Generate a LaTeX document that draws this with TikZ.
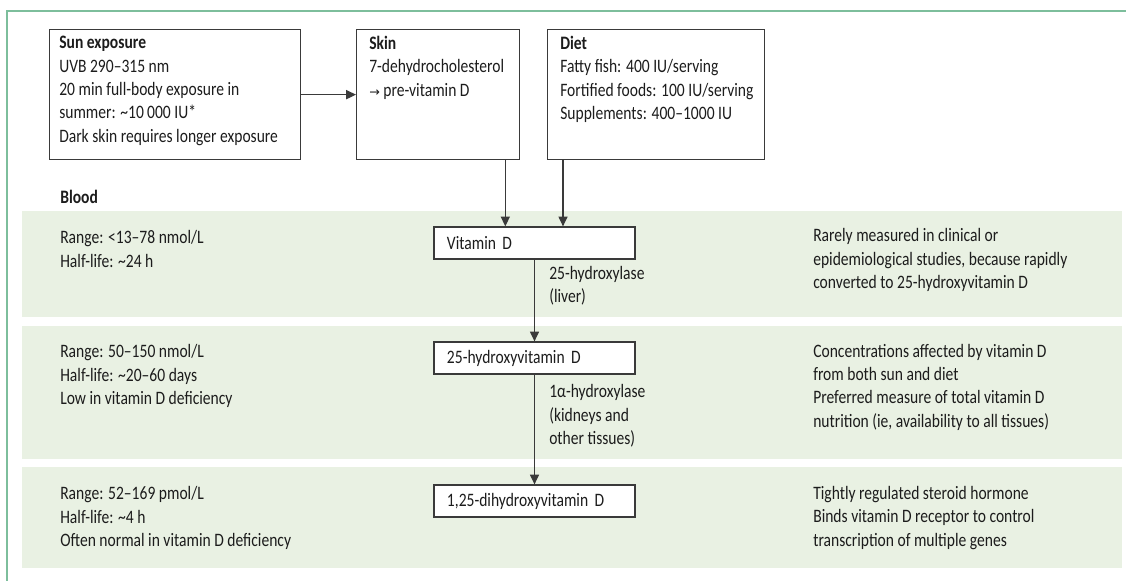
\documentclass[tikz,border=0pt]{standalone}
\usepackage{fontspec}
\setmainfont{Carlito}[FakeStretch=0.82]
\newfontfamily\symfont{DejaVu Sans}
\usetikzlibrary{arrows.meta}
\definecolor{framegreen}{HTML}{7DBE9C}
\definecolor{bandgreen}{HTML}{E9F1E3}
\definecolor{boxgray}{HTML}{3A3A3A}
\definecolor{txtgray}{HTML}{1C1C1C}

\begin{document}
\begin{tikzpicture}[x=0.025cm, y=-0.025cm,
    every node/.style={font=\fontsize{13.5}{16.6}\selectfont, text=txtgray},
    srcbox/.style={draw=boxgray, line width=0.9pt, anchor=north west, inner sep=0pt},
    stepbox/.style={draw=boxgray, line width=0.9pt, fill=white, align=left,
        text width=4.375cm, inner xsep=0.325cm, inner ysep=0pt, minimum height=0.8cm},
    note/.style={align=left, anchor=west, inner sep=0pt},
    boxtext/.style={align=left, anchor=north west, inner sep=0pt},
    arr/.style={draw=boxgray, line width=0.8pt, -{Triangle[length=7pt,width=6.5pt]}}]
    \useasboundingbox (0,0) rectangle (1126,581);

    % Frame and blood bands
    \draw[framegreen, line width=1.4pt] (1126,11) -- (7,11) -- (7,581);
    \fill[bandgreen] (22,211) rectangle (1122,317);
    \fill[bandgreen] (22,326) rectangle (1122,459);
    \fill[bandgreen] (22,467) rectangle (1122,568);

    % Sources
    \node[srcbox, minimum width=6.275cm, minimum height=3.25cm] (sun) at (49,29) {};
    \node[srcbox, minimum width=4.075cm, minimum height=3.25cm] (skin) at (356,29) {};
    \node[srcbox, minimum width=5.425cm, minimum height=3.25cm] (diet) at (547,29) {};
    \node[boxtext] (suntxt) at (59,36) {\textbf{Sun exposure}\\UVB 290–315 nm\\20 min full-body exposure in\\summer: \textasciitilde10\,000 IU*\\Dark skin requires longer exposure};
    \node[boxtext] (skintxt) at (369,36) {\textbf{Skin}\\7-dehydrocholesterol\\{\symfont\small →} pre-vitamin D};
    \node[boxtext] (diettxt) at (560,36) {\textbf{Diet}\\Fatty fish: 400 IU/serving\\Fortified foods: 100 IU/serving\\Supplements: 400–1000 IU};

    \node[note] (blood) at (60,197) {\textbf{Blood}};

    % Metabolites
    \node[stepbox] (vitd) at (534.5,243) {Vitamin D};
    \node[stepbox] (hyd25) at (534.5,358) {25-hydroxyvitamin D};
    \node[stepbox] (dihyd) at (534.5,501) {1,25-dihydroxyvitamin D};

    \draw[arr] (sun.east) -- (skin.west);
    \draw[arr] ([shift={(-15,0)}]skin.south east) -- ([shift={(-15,0)}]skin.south east |- vitd.north);
    \draw[arr] ([shift={(16,0)}]diet.south west) -- ([shift={(16,0)}]diet.south west |- vitd.north);
    \draw[arr] (vitd) -- (hyd25);
    \draw[arr] (hyd25) -- (dihyd);

    \node[note] (liver) at (549,286) {25-hydroxylase\\(liver)};
    \node[note] (kidney) at (549,416) {1α-hydroxylase\\(kidneys and\\other tissues)};

    % Left column
    \node[note] (rng1) at (60,249) {Range: <13–78 nmol/L\\Half-life: \textasciitilde24 h};
    \node[note] (rng2) at (60,376) {Range: 50–150 nmol/L\\Half-life: \textasciitilde20–60 days\\Low in vitamin D deficiency};
    \node[note] (rng3) at (60,518) {Range: 52–169 pmol/L\\Half-life: \textasciitilde4 h\\Often normal in vitamin D deficiency};

    % Right column
    \node[note] (rem1) at (813,260) {Rarely measured in clinical or\\epidemiological studies, because rapidly\\converted to 25-hydroxyvitamin D};
    \node[note] (rem2) at (813,387) {Concentrations affected by vitamin D\\from both sun and diet\\Preferred measure of total vitamin D\\nutrition (ie, availability to all tissues)};
    \node[note] (rem3) at (813,518) {Tightly regulated steroid hormone\\Binds vitamin D receptor to control\\transcription of multiple genes};
\end{tikzpicture}
\end{document}
